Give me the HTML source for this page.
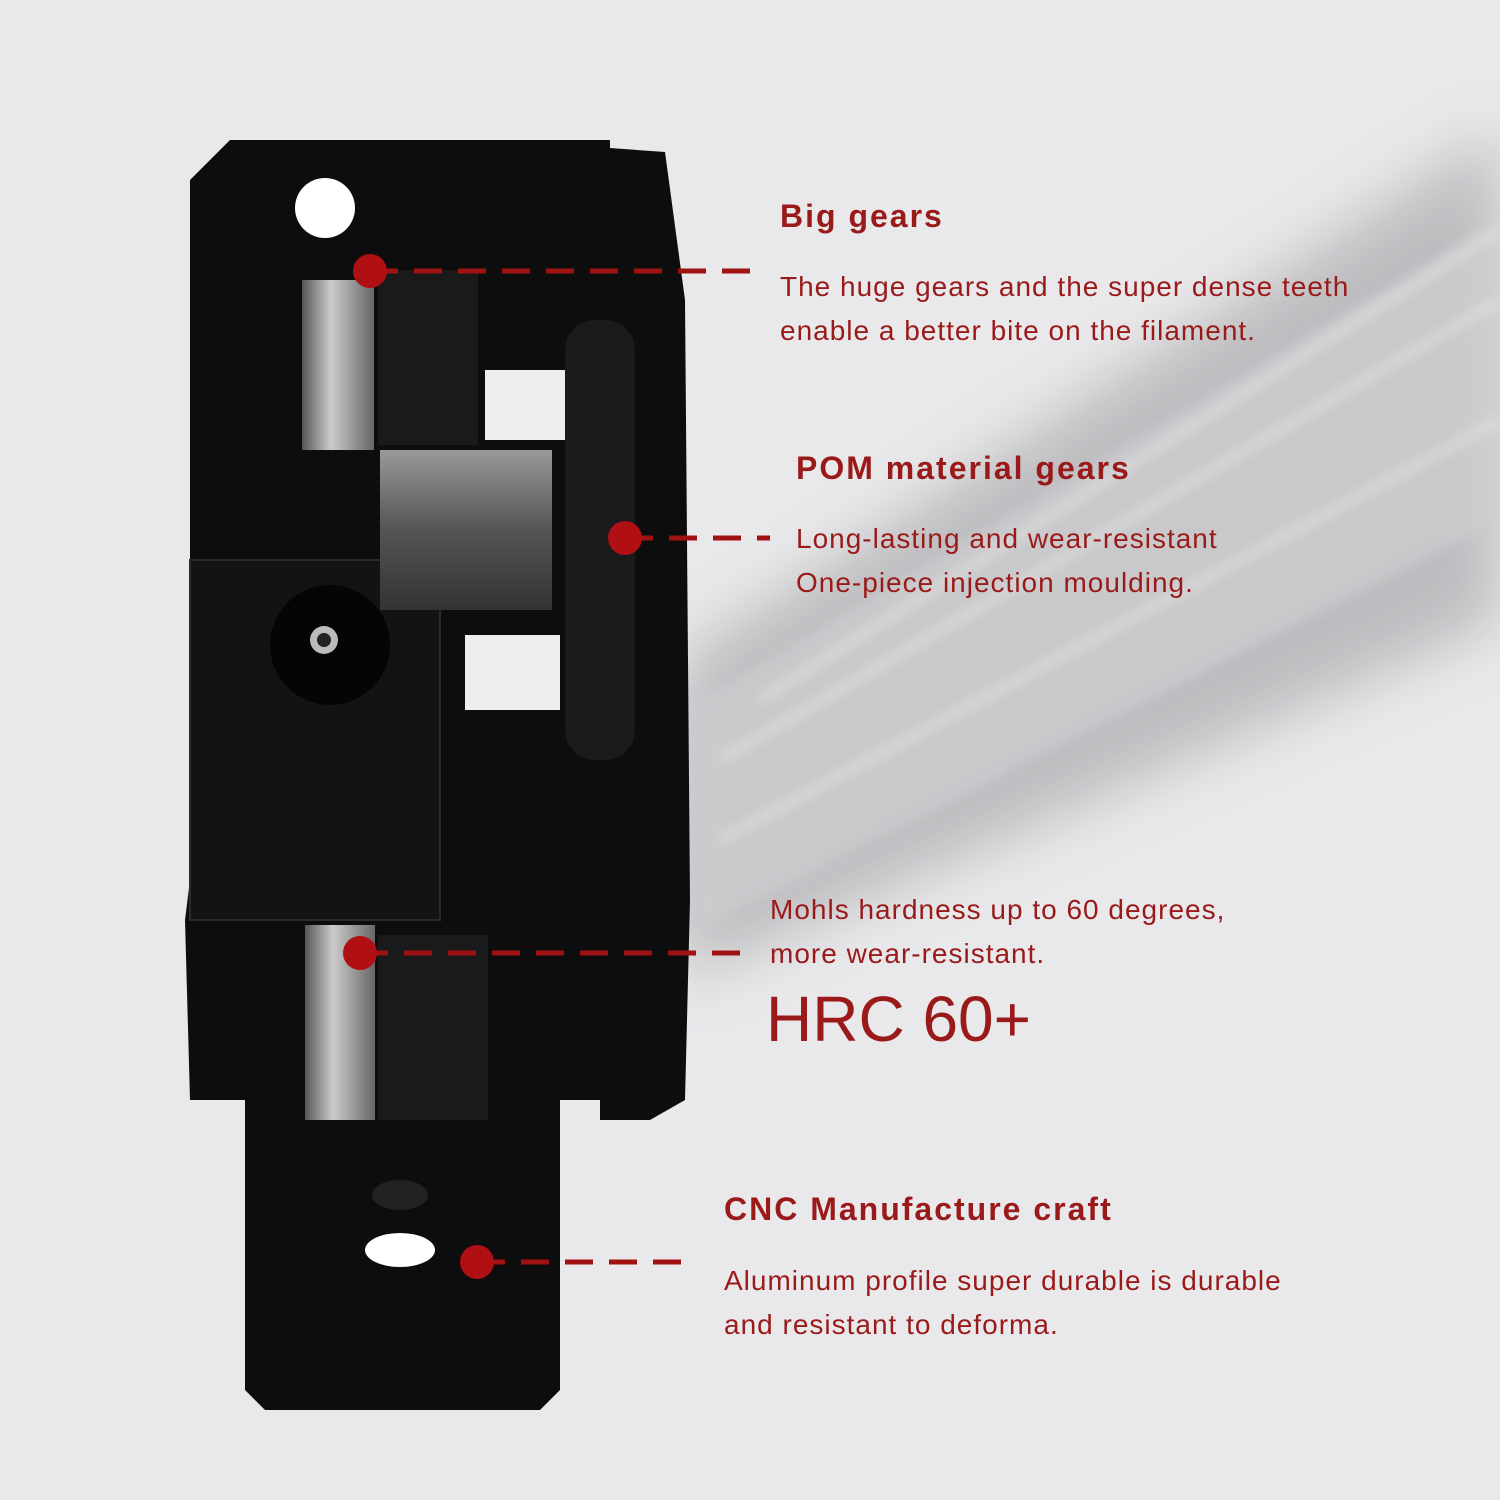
<!DOCTYPE html>
<html><head><meta charset="utf-8"><style>
html,body{margin:0;padding:0;}
body{width:1500px;height:1500px;background:#e9e9ec;position:relative;overflow:hidden;font-family:"Liberation Sans",sans-serif;}
.t{position:absolute;color:#9a1a1a;white-space:nowrap;}
.h{font-weight:bold;font-size:32px;letter-spacing:2px;}
.b{font-size:28px;line-height:44px;letter-spacing:1px;}
</style></head><body>
<svg width="1500" height="1500" style="position:absolute;left:0;top:0">
<defs>
<filter id="bl" x="-20%" y="-20%" width="140%" height="140%"><feGaussianBlur stdDeviation="30"/></filter>
<filter id="bl2"><feGaussianBlur stdDeviation="6"/></filter>
<linearGradient id="sv" x1="0" x2="1"><stop offset="0" stop-color="#555"/><stop offset="0.4" stop-color="#ccc"/><stop offset="1" stop-color="#666"/></linearGradient>
<linearGradient id="pin" x1="0" y1="0" x2="0" y2="1"><stop offset="0" stop-color="#999"/><stop offset="0.5" stop-color="#555"/><stop offset="1" stop-color="#333"/></linearGradient>
</defs>
<polygon points="680,660 1500,130 1500,620 680,980" fill="#b8b8bb" filter="url(#bl)" opacity="0.9"/>
<polygon points="700,700 1500,220 1500,520 700,930" fill="#cfcfd2" filter="url(#bl2)" opacity="0.7"/>
<g stroke="#f2f2f2" stroke-width="6" opacity="0.6" filter="url(#bl2)">
<line x1="720" y1="760" x2="1500" y2="300"/><line x1="720" y1="840" x2="1500" y2="420"/><line x1="760" y1="700" x2="1500" y2="230"/>
</g>
<g fill="#0d0d0e">
<polygon points="190,180 230,140 610,140 610,148 665,152 685,300 690,900 685,1100 650,1120 600,1120 600,1100 560,1100 560,1390 540,1410 265,1410 245,1390 245,1100 190,1100 185,920 190,880"/>
</g>
<rect x="190" y="560" width="250" height="360" fill="#131315" stroke="#2a2a2c" stroke-width="2"/>
<circle cx="330" cy="645" r="60" fill="#050505"/>
<circle cx="324" cy="640" r="14" fill="#bbb"/>
<circle cx="324" cy="640" r="7" fill="#222"/>
<circle cx="325" cy="208" r="30" fill="#fff"/>
<rect x="302" y="280" width="72" height="170" fill="url(#sv)"/>
<rect x="378" y="270" width="100" height="175" fill="#1a1a1b"/>
<rect x="380" y="450" width="172" height="160" fill="url(#pin)"/>
<rect x="485" y="370" width="80" height="70" fill="#eee"/>
<rect x="465" y="635" width="95" height="75" fill="#eee"/>
<rect x="565" y="320" width="70" height="440" rx="30" fill="#1a1a1c"/>
<rect x="305" y="925" width="70" height="195" fill="url(#sv)"/>
<rect x="378" y="935" width="110" height="185" fill="#1a1a1b"/>
<ellipse cx="400" cy="1250" rx="35" ry="17" fill="#fff"/>
<ellipse cx="400" cy="1195" rx="28" ry="15" fill="#222"/>
<g stroke="#a01212" stroke-width="5" stroke-dasharray="28,16">
<line x1="370" y1="271" x2="752" y2="271"/>
<line x1="625" y1="538" x2="770" y2="538"/>
<line x1="360" y1="953" x2="742" y2="953"/>
<line x1="477" y1="1262" x2="690" y2="1262"/>
</g>
<g fill="#b00f14">
<circle cx="370" cy="271" r="17"/><circle cx="625" cy="538" r="17"/><circle cx="360" cy="953" r="17"/><circle cx="477" cy="1262" r="17"/>
</g>
</svg>
<div class="t h" style="left:780px;top:198px">Big gears</div>
<div class="t b" style="left:780px;top:265px">The huge gears and the super dense teeth<br>enable a better bite on the filament.</div>
<div class="t h" style="left:796px;top:450px">POM material gears</div>
<div class="t b" style="left:796px;top:517px">Long-lasting and wear-resistant<br>One-piece injection moulding.</div>
<div class="t b" style="left:770px;top:888px">Mohls hardness up to 60 degrees,<br>more wear-resistant.</div>
<div class="t" style="left:766px;top:982px;font-size:64px;">HRC 60+</div>
<div class="t h" style="left:724px;top:1191px">CNC Manufacture craft</div>
<div class="t b" style="left:724px;top:1259px">Aluminum profile super durable is durable<br>and resistant to deforma.</div>
</body></html>
